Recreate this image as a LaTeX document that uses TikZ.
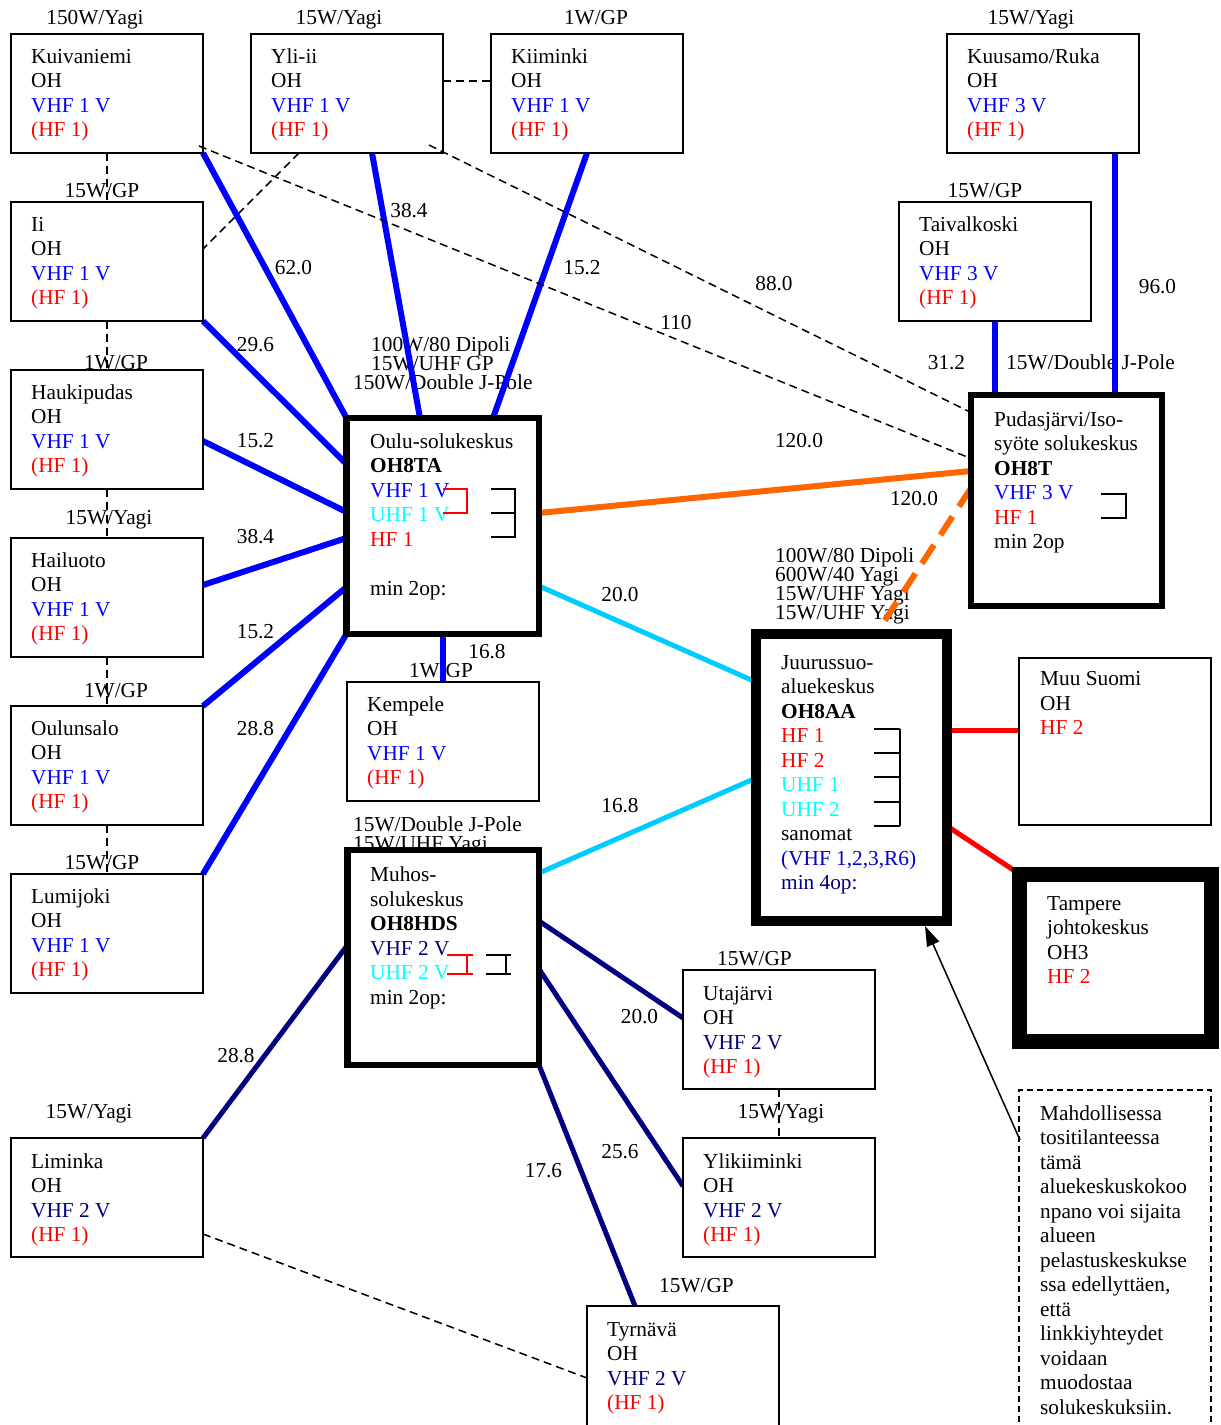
\documentclass[tikz,border=0pt]{standalone}
\usepackage{fontspec}
\setmainfont{Liberation Serif}
\usetikzlibrary{calc,arrows.meta}
\pgfdeclarelayer{bg}
\pgfsetlayers{bg,main}
\newcommand\fsz{\fontsize{21.3}{24.5}\selectfont}
\definecolor{vblue}{RGB}{0,0,255}
\definecolor{vnavy}{RGB}{0,0,128}
\definecolor{vmid}{RGB}{0,0,204}
\definecolor{ucyan}{RGB}{0,255,255}
\definecolor{lcyan}{RGB}{0,204,255}
\definecolor{hred}{RGB}{255,0,0}
\definecolor{lorange}{RGB}{255,102,0}
\begin{document}
\begin{tikzpicture}[x={(1pt,0)}, y={(0,-1pt)},
  sbox/.style={draw, line width=2pt, fill=white, anchor=north west, inner sep=0pt, outer sep=0pt, minimum width=192pt, minimum height=119pt},
  bigbox/.style={draw, fill=white, anchor=north west, inner sep=0pt, outer sep=0pt},
  btxt/.style={anchor=north west, inner sep=0pt, align=left, font=\fsz},
  lab/.style={anchor=base, inner sep=0pt, font=\fsz},
  labw/.style={anchor=base west, inner sep=0pt, font=\fsz},
  vline/.style={line width=6pt, vblue},
  nline/.style={line width=5pt, vnavy},
  cline/.style={line width=5pt, lcyan},
  rline/.style={line width=5pt, hred},
  oline/.style={line width=6pt, lorange},
  dline/.style={line width=1.5pt, dash pattern=on 8pt off 5pt},
  brk/.style={line width=1.5pt},
]
\useasboundingbox (0,0) rectangle (1221,1425);

% ---------- boxes ----------
\node[sbox] (kuiv) at (11,34) {};
\node[sbox] (yli) at (251,34) {};
\node[sbox] (kiim) at (491,34) {};
\node[sbox] (kuus) at (947,34) {};
\node[sbox] (ii) at (11,202) {};
\node[sbox] (taiv) at (899,202) {};
\node[sbox] (hauk) at (11,370) {};
\node[sbox] (hail) at (11,538) {};
\node[sbox] (ouls) at (11,706) {};
\node[sbox] (lumi) at (11,874) {};
\node[sbox] (kemp) at (347,682) {};
\node[sbox] (utaj) at (683,970) {};
\node[sbox] (ylik) at (683,1138) {};
\node[sbox] (limi) at (11,1138) {};
\node[sbox, minimum height=135pt] (tyrn) at (587,1306) {};
\node[sbox, minimum height=167pt] (muu) at (1019,658) {};
\node[bigbox, line width=15pt, minimum width=191.5pt, minimum height=167pt] (tamp) at (1019.5,874) {};
\node[bigbox, line width=1.5pt, dash pattern=on 6pt off 4pt, minimum width=192pt, minimum height=350pt] (note) at (1019,1090) {};
\node[bigbox, line width=6.5pt, minimum width=192.5pt, minimum height=216pt] (oulu) at (346.5,418) {};
\node[bigbox, line width=6.5pt, minimum width=191.5pt, minimum height=215pt] (muhos) at (347.5,850) {};
\node[bigbox, line width=6pt, minimum width=191pt, minimum height=211pt] (pud) at (971,394.5) {};
\node[bigbox, line width=10pt, minimum width=191pt, minimum height=287pt] (juur) at (756,634) {};

% dashed links that start inside their boxes
\draw[dline] ($(kuiv.south east)+(-4,-7)$) -- ($(pud.north west)+(0,64)$);
\draw[dline] ($(yli.south east)+(-14,-8)$) -- ($(pud.north west)+(0,18)$);

\begin{pgfonlayer}{bg}
\fill[white] (0,0) rectangle (1221,1425);
% ---------- antenna and distance labels ----------
\node[lab] (a1) at (95,24) {150W/Yagi};
\node[lab] (a2) at (339,24) {15W/Yagi};
\node[lab] (a3) at (596,24) {1W/GP};
\node[lab] (a4) at (1031,24) {15W/Yagi};
\node[lab] (a5) at (102,197) {15W/GP};
\node[lab] (a6) at (985,197) {15W/GP};
\node[lab] (a7) at (116,369) {1W/GP};
\node[lab] (a8) at (109,524) {15W/Yagi};
\node[lab] (a9) at (116,697) {1W/GP};
\node[lab] (a10) at (102,869) {15W/GP};
\node[labw] (a11) at (371,351) {100W/80 Dipoli};
\node[labw] (a12) at (371,370) {15W/UHF GP};
\node[labw] (a13) at (353,389) {150W/Double J-Pole};
\node[labw] (a14) at (775,562) {100W/80 Dipoli};
\node[labw] (a15) at (775,581) {600W/40 Yagi};
\node[labw] (a16) at (775,600) {15W/UHF Yagi};
\node[labw] (a17) at (775,619) {15W/UHF Yagi};
\node[labw] (a18) at (1006,369) {15W/Double J-Pole};
\node[labw] (a19) at (353,831) {15W/Double J-Pole};
\node[labw] (a20) at (353,850) {15W/UHF Yagi};
\node[lab] (a21) at (441,677) {1W/GP};
\node[lab] (a22) at (754.5,965) {15W/GP};
\node[lab] (a23) at (781,1118) {15W/Yagi};
\node[lab] (a24) at (696.5,1292) {15W/GP};
\node[lab] (a25) at (89,1118) {15W/Yagi};

\node[lab] (d1) at (293.5,274) {62.0};
\node[lab] (d2) at (409,217) {38.4};
\node[lab] (d3) at (582,274) {15.2};
\node[lab] (d4) at (774,290) {88.0};
\node[lab] (d5) at (676,329) {110};
\node[lab] (d6) at (1157.5,293) {96.0};
\node[lab] (d7) at (946.5,369) {31.2};
\node[lab] (d8) at (255.5,351) {29.6};
\node[lab] (d9) at (255.5,447) {15.2};
\node[lab] (d10) at (255.5,543) {38.4};
\node[lab] (d11) at (255.5,638) {15.2};
\node[lab] (d12) at (255.5,735) {28.8};
\node[lab] (d13) at (799,447) {120.0};
\node[lab] (d14) at (914,505) {120.0};
\node[lab] (d15) at (620,601) {20.0};
\node[lab] (d16) at (620,812) {16.8};
\node[lab] (d17) at (487,658) {16.8};
\node[lab] (d18) at (236,1062) {28.8};
\node[lab] (d19) at (639.5,1023) {20.0};
\node[lab] (d20) at (620,1158) {25.6};
\node[lab] (d21) at (543.5,1177) {17.6};

% ---------- dashed black links ----------
\draw[dline] ($(yli.north east)+(0,47)$) -- ($(kiim.north west)+(0,47)$);
\draw[dline] ($(yli.south west)+(48,0)$) -- ($(ii.north east)+(0,47)$);
\draw[dline] (kuiv.south) -- (ii.north);
\draw[dline] (ii.south) -- (hauk.north);
\draw[dline] (hauk.south) -- (hail.north);
\draw[dline] (hail.south) -- (ouls.north);
\draw[dline] (ouls.south) -- (lumi.north);
\draw[dline] (utaj.south) -- (ylik.north);
\draw[dline] ($(limi.north east)+(0,96)$) -- ($(tyrn.north west)+(0,72)$);

% ---------- VHF 1 (blue) ----------
\draw[vline] (kuiv.south east) -- (oulu.north west);
\draw[vline] ($(yli.south west)+(121,0)$) -- ($(oulu.north west)+(73.5,0)$);
\draw[vline] ($(kiim.south west)+(96,0)$) -- ($(oulu.north west)+(146.5,0)$);
\draw[vline] (ii.south east) -- ($(oulu.north west)+(0,46)$);
\draw[vline] ($(hauk.north east)+(0,71)$) -- ($(oulu.north west)+(0,94)$);
\draw[vline] ($(hail.north east)+(0,47)$) -- ($(oulu.north west)+(0,120)$);
\draw[vline] (ouls.north east) -- ($(oulu.north west)+(0,169)$);
\draw[vline] (lumi.north east) -- (oulu.south west);
\draw[vline] ($(oulu.south west)+(96.5,0)$) -- ($(kemp.north west)+(96,0)$);
% ---------- VHF 3 (blue) ----------
\draw[vline] ($(taiv.south west)+(96,0)$) -- ($(pud.north west)+(24,0)$);
\draw[vline] ($(kuus.south west)+(168,0)$) -- ($(pud.north west)+(144,0)$);
% ---------- HF (orange / red) ----------
\draw[oline] ($(oulu.north east)+(0,95)$) -- ($(pud.north west)+(0,76.5)$);
\draw[oline, dash pattern=on 22pt off 12pt] ($(pud.north west)+(0,93.5)$) -- ($(juur.north west)+(120,0)$);
\draw[rline] ($(juur.north east)+(0,96)$) -- ($(muu.north west)+(0,72)$);
\draw[rline] ($(juur.north east)+(0,192)$) -- (tamp.north west);
% ---------- UHF (cyan) ----------
\draw[cline] ($(oulu.north east)+(0,168)$) -- ($(juur.north west)+(0,48)$);
\draw[cline] ($(muhos.north east)+(0,23)$) -- ($(juur.north west)+(0,144)$);
% ---------- VHF 2 (navy) ----------
\draw[nline] ($(muhos.north west)+(0,95)$) -- (limi.north east);
\draw[nline] ($(muhos.north east)+(0,71)$) -- ($(utaj.north west)+(0,48)$);
\draw[nline] ($(muhos.north east)+(0,119)$) -- ($(ylik.north west)+(0,48)$);
\draw[nline] (muhos.south east) -- ($(tyrn.north west)+(48,0)$);
\end{pgfonlayer}

% ---------- box texts ----------
\node[btxt] (t1) at (31,45.9) {\strut Kuivaniemi\\OH\\\textcolor{vblue}{VHF 1 V}\\\textcolor{hred}{(HF 1)}};
\node[btxt] (t2) at (271,45.9) {\strut Yli-ii\\OH\\\textcolor{vblue}{VHF 1 V}\\\textcolor{hred}{(HF 1)}};
\node[btxt] (t3) at (511,45.9) {\strut Kiiminki\\OH\\\textcolor{vblue}{VHF 1 V}\\\textcolor{hred}{(HF 1)}};
\node[btxt] (t4) at (967,45.9) {\strut Kuusamo/Ruka\\OH\\\textcolor{vblue}{VHF 3 V}\\\textcolor{hred}{(HF 1)}};
\node[btxt] (t5) at (31,213.9) {\strut Ii\\OH\\\textcolor{vblue}{VHF 1 V}\\\textcolor{hred}{(HF 1)}};
\node[btxt] (t6) at (919,213.9) {\strut Taivalkoski\\OH\\\textcolor{vblue}{VHF 3 V}\\\textcolor{hred}{(HF 1)}};
\node[btxt] (t7) at (31,381.9) {\strut Haukipudas\\OH\\\textcolor{vblue}{VHF 1 V}\\\textcolor{hred}{(HF 1)}};
\node[btxt] (t8) at (31,549.9) {\strut Hailuoto\\OH\\\textcolor{vblue}{VHF 1 V}\\\textcolor{hred}{(HF 1)}};
\node[btxt] (t9) at (31,717.9) {\strut Oulunsalo\\OH\\\textcolor{vblue}{VHF 1 V}\\\textcolor{hred}{(HF 1)}};
\node[btxt] (t10) at (31,885.9) {\strut Lumijoki\\OH\\\textcolor{vblue}{VHF 1 V}\\\textcolor{hred}{(HF 1)}};
\node[btxt] (t11) at (367,693.9) {\strut Kempele\\OH\\\textcolor{vblue}{VHF 1 V}\\\textcolor{hred}{(HF 1)}};
\node[btxt] (t12) at (703,982.9) {\strut Utajärvi\\OH\\\textcolor{vnavy}{VHF 2 V}\\\textcolor{hred}{(HF 1)}};
\node[btxt] (t13) at (703,1150.9) {\strut Ylikiiminki\\OH\\\textcolor{vnavy}{VHF 2 V}\\\textcolor{hred}{(HF 1)}};
\node[btxt] (t14) at (31,1150.9) {\strut Liminka\\OH\\\textcolor{vnavy}{VHF 2 V}\\\textcolor{hred}{(HF 1)}};
\node[btxt] (t15) at (607,1318.9) {\strut Tyrnävä\\OH\\\textcolor{vnavy}{VHF 2 V}\\\textcolor{hred}{(HF 1)}};
\node[btxt] (t16) at (1040,668.5) {\strut Muu Suomi\\OH\\\textcolor{hred}{HF 2}};
\node[btxt] (t17) at (1047,893) {\strut Tampere\\johtokeskus\\OH3\\\textcolor{hred}{HF 2}};
\node[btxt] (t18) at (370,431) {\strut Oulu-solukeskus\\\textbf{OH8TA}\\\textcolor{vblue}{VHF 1 V}\\\textcolor{ucyan}{UHF 1 V}\\\textcolor{hred}{HF 1}\\[24.5pt]min 2op:};
\node[btxt] (t19) at (370,864.5) {\strut Muhos-\\solukeskus\\\textbf{OH8HDS}\\\textcolor{vnavy}{VHF 2 V}\\\textcolor{ucyan}{UHF 2 V}\\min 2op:};
\node[btxt] (t20) at (994,409) {\strut Pudasjärvi/Iso-\\syöte solukeskus\\\textbf{OH8T}\\\textcolor{vblue}{VHF 3 V}\\\textcolor{hred}{HF 1}\\min 2op};
\node[btxt] (t21) at (781,652) {\strut Juurussuo-\\aluekeskus\\\textbf{OH8AA}\\\textcolor{hred}{HF 1}\\\textcolor{hred}{HF 2}\\\textcolor{ucyan}{UHF 1}\\\textcolor{ucyan}{UHF 2}\\sanomat\\\textcolor{vmid}{(VHF 1,2,3,R6)}\\\textcolor{vnavy}{min 4op:}};
\node[btxt] (t22) at (1040,1103) {\strut Mahdollisessa\\tositilanteessa\\tämä\\aluekeskuskokoo\\npano voi sijaita\\alueen\\pelastuskeskukse\\ssa edellyttäen,\\että\\linkkiyhteydet\\voidaan\\muodostaa\\solukeskuksiin.};

% ---------- brackets ----------
\draw[brk, hred] (443,489) -- (467,489) -- (467,513) -- (443,513);
\draw[brk] (491,489) -- (515,489) -- (515,537) -- (491,537);
\draw[brk] (491,513) -- (515,513);
\draw[brk, hred] (447,955) -- (473,955);
\draw[brk, hred] (447,974) -- (473,974);
\draw[brk, hred] (467,955) -- (467,974);
\draw[brk] (486,955) -- (511,955);
\draw[brk] (486,974) -- (511,974);
\draw[brk] (506,955) -- (506,974);
\foreach \yy in {729,753,777,802,826} {\draw[brk] (874,\yy) -- (900,\yy);}
\draw[brk] (900,729) -- (900,826);
\draw[brk] (1101,494) -- (1126,494) -- (1126,518) -- (1101,518);

% ---------- note arrow ----------
\draw[line width=1.5pt, -{Triangle[length=20pt,width=13pt]}] ($(note.north west)+(1,50)$) -- ($(juur.south east)+(-22,5)$);
\end{tikzpicture}
\end{document}
